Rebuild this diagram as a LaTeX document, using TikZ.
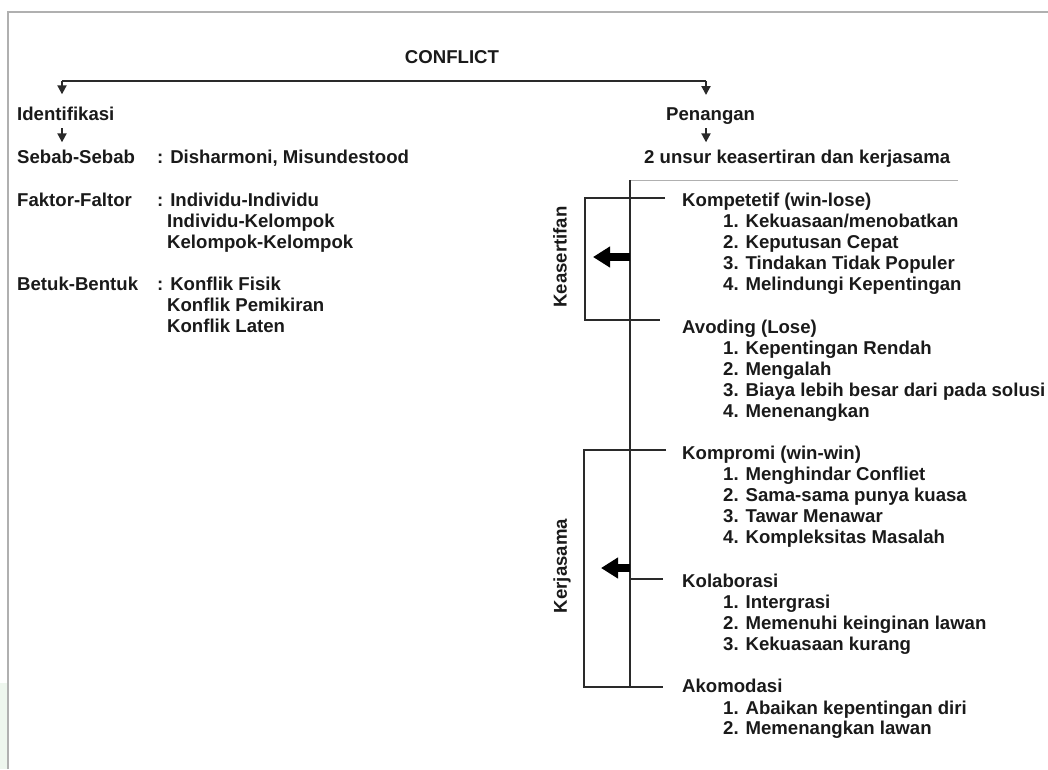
\documentclass[tikz,border=0pt]{standalone}
\usepackage{fontspec}
\setmainfont{Liberation Sans}
\usetikzlibrary{arrows.meta,positioning}
\definecolor{txtgray}{HTML}{1A1A1A}
\definecolor{linegray}{HTML}{2A2A2A}
\definecolor{framegray}{HTML}{B0B0B0}
\definecolor{stripgreen}{HTML}{EEF6EE}
\tikzset{
  lbl/.style={anchor=base west,inner sep=0pt,text=txtgray,
    font=\bfseries\fontsize{18.6}{21}\selectfont},
  down/.style={draw=linegray,line width=2pt,-{Triangle[length=9pt,width=9pt]}},
  brk/.style={draw=linegray,line width=1.5pt},
  fatarrow/.style={draw=black,line width=8pt,-{Triangle[length=17pt,width=20pt]}},
}

\begin{document}
\begin{tikzpicture}[x=1pt,y=-1pt]
\useasboundingbox (0,0) rectangle (1048,769);
% frame
\fill[stripgreen] (0,683) rectangle (8,769);
\draw[framegray,line width=2pt] (8,769) -- (8,12) -- (1048,12);

% top level
\node[lbl,anchor=base] (conflict) at (452,63) {CONFLICT};
\node[lbl] (ident) at (17,120) {Identifikasi};
\node[lbl] (penang) at (666,120) {Penangan};
\coordinate (ltop) at (62,81);
\coordinate (rtop) at (706,81);
\draw[linegray,line width=1.8pt] (ltop) -- (rtop);
\draw[down] (ltop) -- ([yshift=12pt]ident.north -| ltop);
\draw[down] (rtop) -- ([yshift=12pt]penang.north -| rtop);

% left column
\node[lbl] (sebab) at (17,163) {Sebab-Sebab};
\node[lbl] (sebab-v) at (157,163) {: Disharmoni, Misundestood};
\node[lbl] (faktor) at (17,206) {Faktor-Faltor};
\node[lbl] (faktor-1) at (157,206) {: Individu-Individu};
\node[lbl] (faktor-2) at (167,227) {Individu-Kelompok};
\node[lbl] (faktor-3) at (167,248) {Kelompok-Kelompok};
\node[lbl] (bentuk) at (17,290) {Betuk-Bentuk};
\node[lbl] (bentuk-1) at (157,290) {: Konflik Fisik};
\node[lbl] (bentuk-2) at (167,311) {Konflik Pemikiran};
\node[lbl] (bentuk-3) at (167,332) {Konflik Laten};
\draw[down] ([yshift=-8pt]ident.base -| ltop) -- ([yshift=7pt]sebab.north -| ltop);

% right column
\node[lbl] (unsur) at (644,163) {2 unsur keasertiran dan kerjasama};
\draw[down] ([yshift=-8pt]penang.base -| rtop) -- ([yshift=7pt]unsur.north -| rtop);

\node[lbl] (komp) at (682,206) {Kompetetif (win-lose)};
\node[lbl] (komp-1) at (723,227) {1. Kekuasaan/menobatkan};
\node[lbl] (komp-2) at (723,248) {2. Keputusan Cepat};
\node[lbl] (komp-3) at (723,269) {3. Tindakan Tidak Populer};
\node[lbl] (komp-4) at (723,290) {4. Melindungi Kepentingan};
\node[lbl] (avod) at (682,333) {Avoding (Lose)};
\node[lbl] (avod-1) at (723,354) {1. Kepentingan Rendah};
\node[lbl] (avod-2) at (723,375) {2. Mengalah};
\node[lbl] (avod-3) at (723,396) {3. Biaya lebih besar dari pada solusi};
\node[lbl] (avod-4) at (723,417) {4. Menenangkan};
\node[lbl] (kompro) at (682,459) {Kompromi (win-win)};
\node[lbl] (kompro-1) at (723,480) {1. Menghindar Confliet};
\node[lbl] (kompro-2) at (723,501) {2. Sama-sama punya kuasa};
\node[lbl] (kompro-3) at (723,522) {3. Tawar Menawar};
\node[lbl] (kompro-4) at (723,543) {4. Kompleksitas Masalah};
\node[lbl] (kolab) at (682,587) {Kolaborasi};
\node[lbl] (kolab-1) at (723,608) {1. Intergrasi};
\node[lbl] (kolab-2) at (723,629) {2. Memenuhi keinginan lawan};
\node[lbl] (kolab-3) at (723,650) {3. Kekuasaan kurang};
\node[lbl] (akom) at (682,692) {Akomodasi};
\node[lbl] (akom-1) at (723,714) {1. Abaikan kepentingan diri};
\node[lbl] (akom-2) at (723,734) {2. Memenangkan lawan};

% spine and brackets
\coordinate (spinetop) at (630,180);
\coordinate (spinebot) at (630,687);
\draw[framegray,line width=1pt] (spinetop) -- (958,180);
\draw[brk] (spinetop) -- (spinebot);
\draw[brk] (665,198) -- (585,198) -- (585,320) -- (660,320);
\draw[brk] (666,450) -- (584,450) -- (584,687) -- (663,687);
\draw[brk] (630,579) -- (663,579);
\node[lbl,anchor=center,rotate=90] (keas) at (560,257) {Keasertifan};
\node[lbl,anchor=center,rotate=90] (kerja) at (562,566) {Kerjasama};
\coordinate (keas-tip) at (593,257);
\coordinate (kerja-tip) at (601,568);
\draw[fatarrow] (630,257) -- (keas-tip);
\draw[fatarrow] (630,568) -- (kerja-tip);
\end{tikzpicture}
\end{document}
